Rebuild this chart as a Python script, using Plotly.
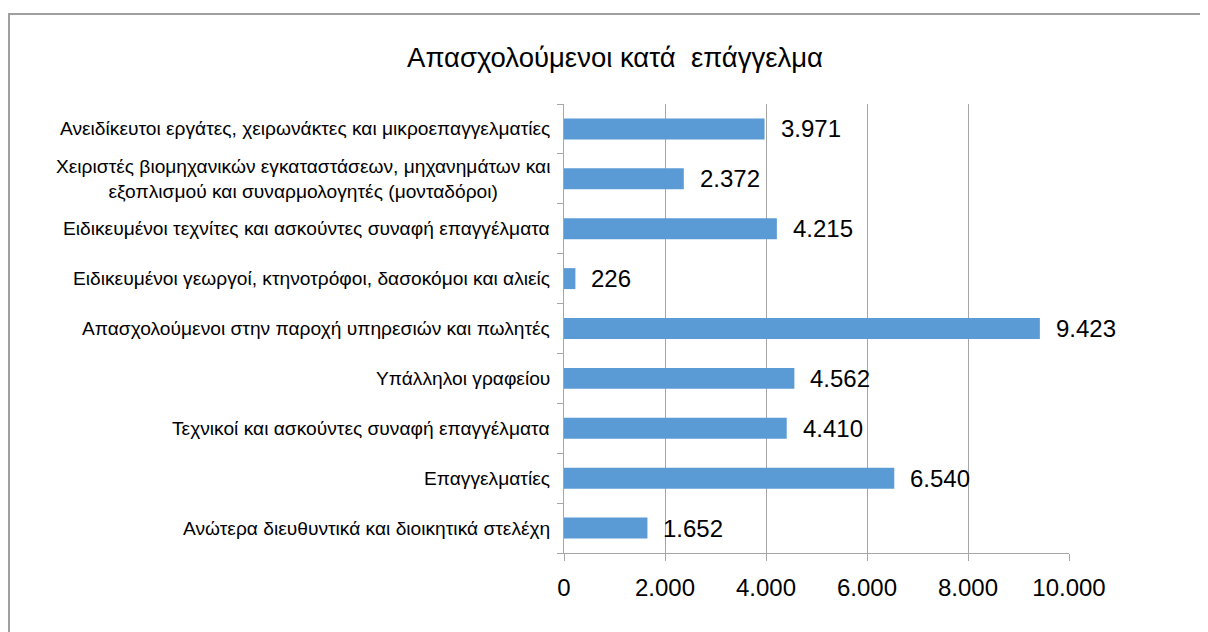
import plotly.graph_objects as go

categories = [
    "Ανώτερα διευθυντικά και διοικητικά στελέχη",
    "Επαγγελματίες",
    "Τεχνικοί και ασκούντες συναφή επαγγέλματα",
    "Υπάλληλοι γραφείου",
    "Απασχολούμενοι στην παροχή υπηρεσιών και πωλητές",
    "Ειδικευμένοι γεωργοί, κτηνοτρόφοι, δασοκόμοι και αλιείς",
    "Ειδικευμένοι τεχνίτες και ασκούντες συναφή επαγγέλματα",
    "Χειριστές βιομηχανικών εγκαταστάσεων, μηχανημάτων και<br>εξοπλισμού και συναρμολογητές (μονταδόροι)",
    "Ανειδίκευτοι εργάτες, χειρωνάκτες και μικροεπαγγελματίες",
]
values = [1652, 6540, 4410, 4562, 9423, 226, 4215, 2372, 3971]
title_text = "Απασχολούμενοι κατά\u00a0 επάγγελμα"

FONT = "Liberation Sans, Arial, sans-serif"
GRID = "#a6a6a6"

fig = go.Figure()
fig.add_trace(go.Bar(
    x=values, y=categories, orientation="h",
    marker=dict(color="#5b9bd5", line=dict(width=0)),
    hoverinfo="x+y",
))

annotations = []
for c, v in zip(categories, values):
    annotations.append(dict(
        x=v, y=c, xref="x", yref="y", text=f"{v:,}".replace(",", "."),
        showarrow=False, xanchor="left", yanchor="middle", xshift=14,
        font=dict(family=FONT, size=24, color="#000000"),
    ))
    annotations.append(dict(
        x=0, y=c, xref="paper", yref="y", text=c, align="center",
        showarrow=False, xanchor="right", yanchor="middle", xshift=-12,
        font=dict(family=FONT, size=19.2, color="#000000"),
    ))

fig.update_layout(
    width=1208, height=632,
    paper_bgcolor="white", plot_bgcolor="white",
    margin=dict(l=556, r=147, t=96, b=87),
    separators=",.",
    bargap=0.58,
    showlegend=False,
    title=dict(text=title_text, x=607 / 1208, xanchor="center",
               y=1 - 49 / 632, yanchor="middle",
               font=dict(family=FONT, size=27.5, color="#000000")),
    annotations=annotations,
    shapes=[dict(type="rect", xref="paper", yref="paper",
                 x0=-555 / 505, x1=1.5, y0=-1.0, y1=1 + 90 / 449,
                 line=dict(color="#a0a0a0", width=2), layer="below")],
)
fig.update_xaxes(
    range=[0, 10000], dtick=2000, tick0=0, tickformat=",d",
    showgrid=True, gridcolor=GRID, gridwidth=1.3,
    zeroline=False, showline=True, linecolor=GRID, linewidth=1.3,
    ticks="outside", ticklen=7, tickcolor=GRID, tickwidth=1.3,
    ticklabelstandoff=6,
    tickfont=dict(family=FONT, size=24, color="#000000"),
)
fig.update_yaxes(
    showticklabels=False, tickson="boundaries", ticks="outside", ticklen=6,
    tickcolor=GRID, tickwidth=1.3, showline=True, linecolor=GRID, linewidth=1.3,
    showgrid=False, zeroline=False,
)

fig.write_html("out.html")
